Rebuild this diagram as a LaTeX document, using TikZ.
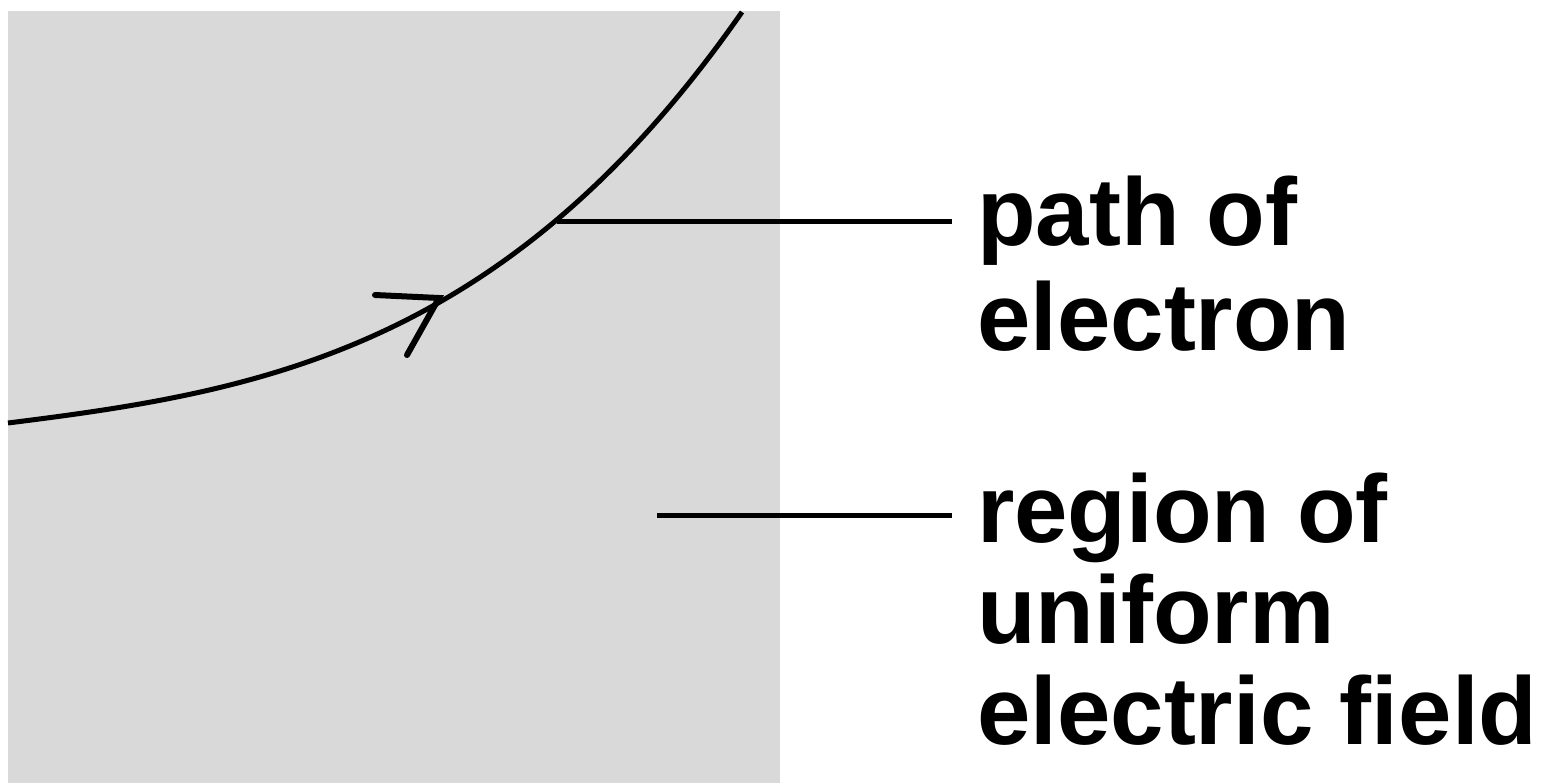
\documentclass[tikz,border=0pt]{standalone}
\usepackage{fontspec}
\setmainfont{Liberation Sans}
\definecolor{fieldgrey}{HTML}{D9D9D9}
\begin{document}
\begin{tikzpicture}[x=1pt,y=-1pt,
  lbl/.style={anchor=base west, inner sep=0pt, font=\bfseries\fontsize{96}{104}\selectfont},
  curve/.style={line width=5pt, black},
  leader/.style={line width=5pt, black},
  arm/.style={line width=6pt, line cap=round, black}]
\useasboundingbox (0,0) rectangle (1544,783);
\fill[fieldgrey] (8,11) rectangle (780,783);
% electron path
\coordinate (start) at (8,423);
\coordinate (finish) at (742,12);
\draw[curve] (start) .. controls (255,392) and (505,352) .. (finish);
% arrowhead
\coordinate (tip) at (439,298);
\coordinate (armA) at (375,295);
\coordinate (armB) at (407,355);
\draw[arm] (armA) -- (tip) -- (armB);
% labels
\node[lbl] (l1) at (977,246) {path of};
\node[lbl] (l2) at (977,351) {electron};
\node[lbl] (l3) at (977,542) {region of};
\node[lbl] (l4) at (977,643) {uniform};
\node[lbl] (l5) at (977,744) {electric field};
% leader lines
\coordinate (p1) at (557,222);
\coordinate (p1e) at (952,222);
\coordinate (p2) at (657,515);
\coordinate (p2e) at (952,515);
\draw[leader] (p1) -- (p1e);
\draw[leader] (p2) -- (p2e);
\end{tikzpicture}
\end{document}
